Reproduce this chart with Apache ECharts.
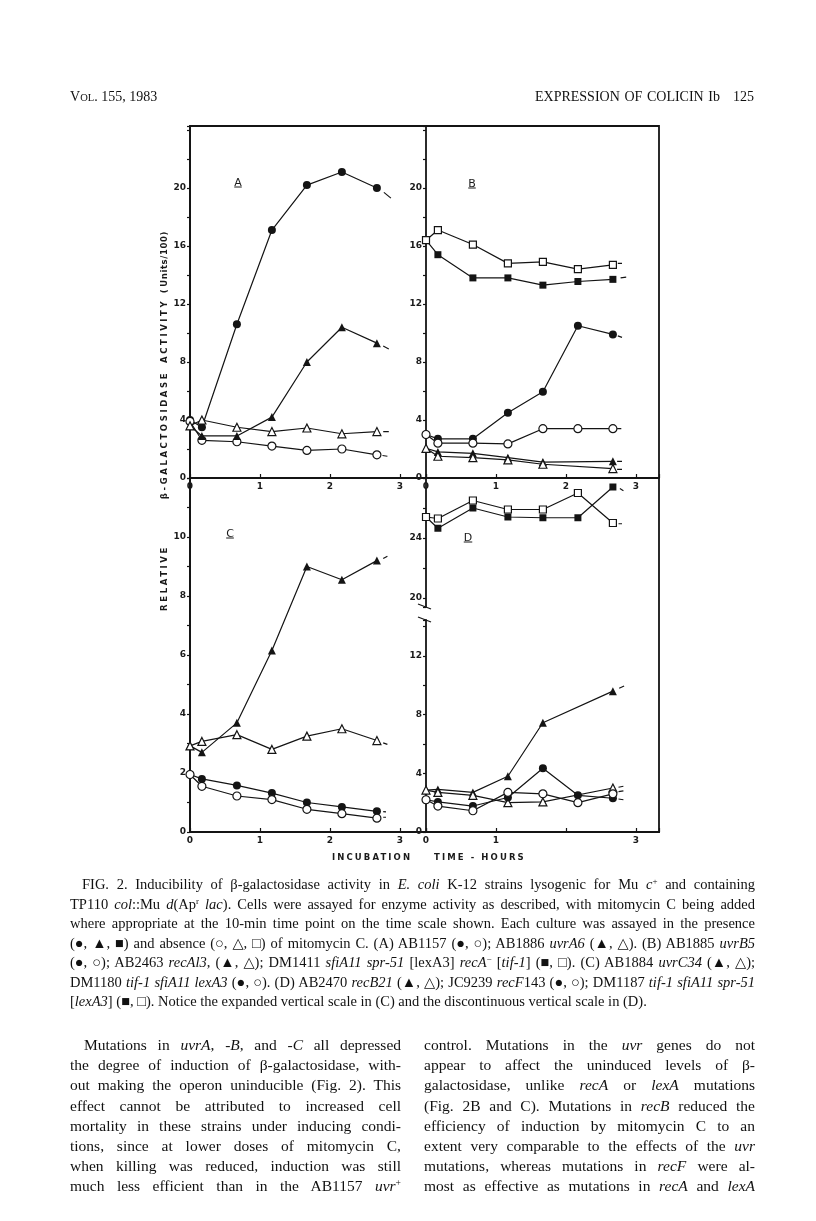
<!DOCTYPE html>
<html>
<head>
<meta charset="utf-8">
<title>Fig. 2 - Expression of colicin Ib</title>
<script src="https://cdn.jsdelivr.net/npm/echarts@6.0.0/dist/echarts.min.js"></script>
<style>
  html, body { margin: 0; padding: 0; background: #fff; }
  #page { position: relative; width: 816px; height: 1221px; overflow: hidden; color: #111;
          font-family: 'Liberation Serif', 'DejaVu Serif', serif; }
  #chart { position: absolute; left: 0; top: 0; width: 816px; height: 1221px; }
  .t { position: absolute; white-space: nowrap; line-height: 18px; }
  .t > span { display: inline-block; transform-origin: 0 50%; }
  .axis-name { position: absolute; white-space: nowrap; font-family: 'DejaVu Sans', sans-serif;
               font-weight: bold; font-size: 8.5px; letter-spacing: 2.6px; color: #1a1a1a; }
  .rot { transform: translate(-50%, -50%) rotate(-90deg); }
  .panel-tag { position: absolute; font-family: 'DejaVu Sans', sans-serif; font-size: 11px;
               text-decoration: underline; transform: translate(-50%, -50%); color: #1a1a1a; }
  .hdr { font-size: 14px; }
  .cap { font-size: 14.5px; }
  .txt { font-size: 15.5px; }
  sup { font-size: 0.62em; line-height: 0; vertical-align: 0.55em; }
</style>
</head>
<body>
<div id="page">
  <div id="chart"></div>

  <!-- titres d'axes -->
  <div class="axis-name rot" style="left:164px; top:578px;">RELATIVE</div>
  <div class="axis-name rot" style="left:164px; top:435px;">&beta;-GALACTOSIDASE</div>
  <div class="axis-name rot" style="left:164px; top:296px;">ACTIVITY (<span style="letter-spacing:0.6px">Units/100</span>)</div>
  <div class="axis-name" style="left:332px; top:852px; letter-spacing:2.1px;">INCUBATION</div>
  <div class="axis-name" style="left:434px; top:852px; letter-spacing:2.1px;">TIME - HOURS</div>

  <div class="panel-tag" style="left:238px; top:182px;">A</div>
  <div class="panel-tag" style="left:472px; top:183px;">B</div>
  <div class="panel-tag" style="left:230px; top:533px;">C</div>
  <div class="panel-tag" style="left:468px; top:537px;">D</div>
</div>

<script>
// temps (heures) des prélèvements
const hours = [0, 0.17, 0.67, 1.17, 1.67, 2.17, 2.67];

// (A) AB1157 (●, ○) ; AB1886 uvrA6 (▲, △)
const aCircleOn = [4.0, 3.5, 10.6, 17.1, 20.2, 21.1, 20.0];
const aCircleOff = [3.9, 2.6, 2.5, 2.2, 1.9, 2.0, 1.6];
const aTriOn = [3.6, 2.9, 2.9, 4.2, 8.0, 10.4, 9.3];
const aTriOff = [3.6, 4.0, 3.5, 3.2, 3.45, 3.05, 3.2];

// (B) uvrB5 (●, ○) ; recA13 (▲, △) ; DM1411 (■, □)
const bSquareOn = [16.4, 15.4, 13.8, 13.8, 13.3, 13.55, 13.7];
const bSquareOff = [16.4, 17.1, 16.1, 14.8, 14.9, 14.4, 14.7];
const bCircleOn = [3.0, 2.7, 2.7, 4.5, 5.95, 10.5, 9.9];
const bCircleOff = [3.0, 2.4, 2.4, 2.35, 3.4, 3.4, 3.4];
const bTriOn = [2.05, 1.8, 1.7, 1.4, 1.1, null, 1.15];
const bTriOff = [2.05, 1.5, 1.4, 1.25, 0.95, null, 0.65];

// (C) uvrC34 (▲, △) ; DM1180 (●, ○)
const cTriOn = [2.92, 2.7, 3.7, 6.15, 9.0, 8.55, 9.2];
const cTriOff = [2.92, 3.07, 3.3, 2.8, 3.25, 3.5, 3.1];
const cCircleOn = [1.95, 1.8, 1.58, 1.32, 1.0, 0.85, 0.7];
const cCircleOff = [1.95, 1.55, 1.22, 1.1, 0.77, 0.62, 0.47];

// (D) recB21 (▲, △) ; recF143 (●, ○) ; DM1187 (■, □)
const dSquareOn = [25.4, 24.65, 26.0, 25.4, 25.35, 25.35, 27.4];
const dSquareOff = [25.4, 25.3, 26.5, 25.9, 25.9, 27.0, 25.0];
const dTriOn = [2.86, 2.9, 2.7, 3.8, 7.45, null, 9.6];
const dTriOff = [2.86, 2.7, 2.5, 2.0, 2.05, null, 3.0];
const dCircleOn = [2.2, 2.05, 1.77, 2.35, 4.35, 2.5, 2.3];
const dCircleOff = [2.2, 1.77, 1.45, 2.7, 2.6, 2.0, 2.6];

// petits traits après le dernier point
const aCircleOnTail = [[2.77, 19.7], [2.87, 19.3]];
const aCircleOffTail = [[2.75, 1.55], [2.82, 1.5]];
const aTriOnTail = [[2.76, 9.1], [2.84, 8.9]];
const aTriOffTail = [[2.76, 3.2], [2.84, 3.2]];
const bSquareOnTail = [[2.78, 13.8], [2.86, 13.85]];
const bSquareOffTail = [[2.74, 14.8], [2.8, 14.8]];
const bCircleOnTail = [[2.74, 9.8], [2.8, 9.7]];
const bCircleOffTail = [[2.73, 3.4], [2.79, 3.4]];
const bTriOnTail = [[2.73, 1.15], [2.8, 1.15]];
const bTriOffTail = [[2.73, 0.6], [2.8, 0.6]];
const cTriOnTail = [[2.76, 9.27], [2.82, 9.35]];
const cTriOffTail = [[2.76, 3.02], [2.82, 2.97]];
const cCircleOnTail = [[2.76, 0.69], [2.8, 0.68]];
const cCircleOffTail = [[2.76, 0.5], [2.8, 0.5]];
const dSquareOnTail = [[2.77, 27.3], [2.82, 27.15]];
const dSquareOffTail = [[2.75, 24.95], [2.8, 24.95]];
const dTriOnTail = [[2.76, 9.8], [2.83, 9.95]];
const dTriOffTail = [[2.75, 3.05], [2.82, 3.12]];
const dCircleOnTail = [[2.75, 2.25], [2.82, 2.2]];
const dCircleOffTail = [[2.75, 2.75], [2.82, 2.8]];

// graduations
const hourTicks = [0, 1, 2, 3];
const abLabels = [0, 4, 8, 12, 16, 20];
const cLabels = [0, 2, 4, 6, 8, 10];
const dLowLabels = [0, 4, 8, 12];
const dHighLabels = [20, 24];
const dHourLabels = [0, 1, 3];

// texte de la page
const captionLines = [
  'FIG. 2. Inducibility of &beta;-galactosidase activity in <i>E. coli</i> K-12 strains lysogenic for Mu <i>c</i><sup>+</sup> and containing',
  'TP110 <i>col</i>::Mu <i>d</i>(Ap<sup>r</sup> <i>lac</i>). Cells were assayed for enzyme activity as described, with mitomycin C being added',
  'where appropriate at the 10-min time point on the time scale shown. Each culture was assayed in the presence',
  '(●, ▲, ■) and absence (○, △, □) of mitomycin C. (A) AB1157 (●, ○); AB1886 <i>uvrA6</i> (▲, △). (B) AB1885 <i>uvrB5</i>',
  '(●, ○); AB2463 <i>recAl3</i>, (▲, △); DM1411 <i>sfiA11 spr-51</i> [lexA3] <i>recA</i><sup>&minus;</sup> [<i>tif-1</i>] (■, □). (C) AB1884 <i>uvrC34</i> (▲, △);',
  'DM1180 <i>tif-1 sfiA11 lexA3</i> (●, ○). (D) AB2470 <i>recB21</i> (▲, △); JC9239 <i>recF</i>143 (●, ○); DM1187 <i>tif-1 sfiA11 spr-51</i>',
  '[<i>lexA3</i>] (■, □). Notice the expanded vertical scale in (C) and the discontinuous vertical scale in (D).'
];
const leftColumn = [
  'Mutations in <i>uvrA</i>, <i>-B</i>, and <i>-C</i> all depressed',
  'the degree of induction of &beta;-galactosidase, with-',
  'out making the operon uninducible (Fig. 2). This',
  'effect cannot be attributed to increased cell',
  'mortality in these strains under inducing condi-',
  'tions, since at lower doses of mitomycin C,',
  'when killing was reduced, induction was still',
  'much less efficient than in the AB1157 <i>uvr</i><sup>+</sup>'
];
const rightColumn = [
  'control. Mutations in the <i>uvr</i> genes do not',
  'appear to affect the uninduced levels of &beta;-',
  'galactosidase, unlike <i>recA</i> or <i>lexA</i> mutations',
  '(Fig. 2B and C). Mutations in <i>recB</i> reduced the',
  'efficiency of induction by mitomycin C to an',
  'extent very comparable to the effects of the <i>uvr</i>',
  'mutations, whereas mutations in <i>recF</i> were al-',
  'most as effective as mutations in <i>recA</i> and <i>lexA</i>'
];

const page = document.getElementById('page');

// une ligne de texte ajustée à la largeur voulue
function addLine(html, cls, left, centerY, width, justify) {
  const el = document.createElement('div');
  el.className = 't ' + cls;
  el.style.left = left + 'px';
  el.style.top = (centerY - 9) + 'px';
  el.innerHTML = '<span>' + html + '</span>';
  page.appendChild(el);
  const span = el.firstChild;
  const w = span.getBoundingClientRect().width;
  if (justify && w < width) {
    const gaps = (span.textContent.match(/ /g) || []).length;
    if (gaps) span.style.wordSpacing = ((width - w) / gaps) + 'px';
  } else if (w > width) {
    span.style.transform = 'scaleX(' + (width / w) + ')';
  }
}

function layoutText() {
  addLine('V<span style="font-size:10.5px">OL</span>. 155, 1983', 'hdr', 70, 97, 99, false);
  addLine('EXPRESSION OF COLICIN Ib', 'hdr', 535, 97, 185, true);
  addLine('125', 'hdr', 733, 97, 22, false);

  captionLines.forEach((line, i) => {
    const indent = i === 0 ? 12 : 0;
    addLine(line, 'cap', 70 + indent, 884 + i * 19.5, 685 - indent, i < captionLines.length - 1);
  });
  leftColumn.forEach((line, i) => {
    const indent = i === 0 ? 14 : 0;
    addLine(line, 'txt', 70 + indent, 1045 + i * 20.2, 331 - indent, true);
  });
  rightColumn.forEach((line, i) => {
    addLine(line, 'txt', 424, 1045 + i * 20.2, 331, true);
  });
}

// ---------- graphique ----------
const ink = '#141414';
const labelStyle = { fontFamily: 'DejaVu Sans', fontSize: 9, fontWeight: 'bold', color: '#1a1a1a' };

function onlyIn(list) {
  return v => (list.indexOf(Math.round(v * 100) / 100) >= 0 ? String(v) : '');
}

function xAxisFor(grid, max, labels, visible) {
  return {
    type: 'value', gridIndex: grid, min: 0, max: max, interval: 1, show: visible,
    axisLine: { show: true, lineStyle: { color: ink, width: 1.8 } },
    axisTick: { show: true, inside: true, length: 4, lineStyle: { color: ink, width: 1.2 } },
    axisLabel: Object.assign({ margin: 4, formatter: onlyIn(labels) }, labelStyle),
    splitLine: { show: false }
  };
}

function yAxisFor(grid, min, max, interval, labels) {
  const ax = {
    type: 'value', gridIndex: grid, min: min, max: max,
    axisLine: { show: true, onZero: false, lineStyle: { color: ink, width: 1.8 } },
    axisTick: { show: true, inside: false, length: 3, lineStyle: { color: ink, width: 1.2 } },
    axisLabel: Object.assign({ margin: 4, formatter: onlyIn(labels), showMinLabel: true, showMaxLabel: true }, labelStyle),
    splitLine: { show: false }
  };
  if (interval) ax.interval = interval;
  else ax.splitNumber = 4;
  return ax;
}

const symbolSize = { circle: 8, triangle: 8, rect: 7 };

function markSeries(axis, values, shape, filled, tail) {
  const pts = [];
  values.forEach((v, i) => { if (v !== null) pts.push([hours[i], v]); });
  const main = {
    type: 'line', xAxisIndex: axis, yAxisIndex: axis, data: pts,
    symbol: shape, symbolSize: symbolSize[shape], showSymbol: true, silent: true,
    lineStyle: { color: ink, width: 1.2 },
    itemStyle: { color: filled ? ink : '#fff', borderColor: ink, borderWidth: filled ? 0 : 1.2 },
    emphasis: { disabled: true }, z: 3
  };
  const dash = {
    type: 'line', xAxisIndex: axis, yAxisIndex: axis, data: tail,
    symbol: 'none', silent: true, lineStyle: { color: ink, width: 1.2 }, z: 2
  };
  return [main, dash];
}

const seriesSpec = [
  [1, aCircleOn, 'circle', true, aCircleOnTail],
  [1, aCircleOff, 'circle', false, aCircleOffTail],
  [1, aTriOn, 'triangle', true, aTriOnTail],
  [1, aTriOff, 'triangle', false, aTriOffTail],
  [2, bSquareOn, 'rect', true, bSquareOnTail],
  [2, bSquareOff, 'rect', false, bSquareOffTail],
  [2, bCircleOn, 'circle', true, bCircleOnTail],
  [2, bCircleOff, 'circle', false, bCircleOffTail],
  [2, bTriOn, 'triangle', true, bTriOnTail],
  [2, bTriOff, 'triangle', false, bTriOffTail],
  [3, cTriOn, 'triangle', true, cTriOnTail],
  [3, cTriOff, 'triangle', false, cTriOffTail],
  [3, cCircleOn, 'circle', true, cCircleOnTail],
  [3, cCircleOff, 'circle', false, cCircleOffTail],
  [4, dSquareOn, 'rect', true, dSquareOnTail],
  [4, dSquareOff, 'rect', false, dSquareOffTail],
  [5, dTriOn, 'triangle', true, dTriOnTail],
  [5, dTriOff, 'triangle', false, dTriOffTail],
  [5, dCircleOn, 'circle', true, dCircleOnTail],
  [5, dCircleOff, 'circle', false, dCircleOffTail]
];

let series = [];
seriesSpec.forEach(s => { series = series.concat(markSeries(s[0], s[1], s[2], s[3], s[4])); });

// cadre : gauche 190, milieu 426, droite 659 ; haut 126, milieu 478, bas 832
const option = {
  animation: false,
  backgroundColor: 'transparent',
  grid: [
    { left: 190, top: 126, width: 469, height: 706, show: true, borderColor: ink, borderWidth: 1.8, backgroundColor: 'transparent' },
    { left: 190, top: 126, width: 236, height: 352 },
    { left: 426, top: 126, width: 233, height: 352 },
    { left: 190, top: 478, width: 236, height: 354 },
    { left: 426, top: 478, width: 233, height: 129 },
    { left: 426, top: 620, width: 233, height: 212 }
  ],
  xAxis: [
    { type: 'value', gridIndex: 0, min: 0, max: 1, show: false },
    xAxisFor(1, 236 / 70, hourTicks, true),
    xAxisFor(2, 233 / 70, hourTicks, true),
    xAxisFor(3, 236 / 70, hourTicks, true),
    xAxisFor(4, 233 / 70, [], false),
    xAxisFor(5, 233 / 70, dHourLabels, true)
  ],
  yAxis: [
    { type: 'value', gridIndex: 0, min: 0, max: 1, show: false },
    yAxisFor(1, 0, 352 / 14.5, 2, abLabels),
    yAxisFor(2, 0, 352 / 14.5, 2, abLabels),
    yAxisFor(3, 0, 354 / 29.5, 1, cLabels),
    yAxisFor(4, 19.4, 28, null, dHighLabels),
    yAxisFor(5, 0, 212 / 14.67, 2, dLowLabels)
  ],
  series: series
};

const chart = echarts.init(document.getElementById('chart'), null, { renderer: 'canvas' });
chart.setOption(option);

// coupure de l'axe vertical en (D)
const breakTop = chart.convertToPixel({ gridIndex: 4 }, [0, 19.4]);
const breakBottom = chart.convertToPixel({ gridIndex: 5 }, [0, 212 / 14.67]);
chart.setOption({
  graphic: [breakTop, breakBottom].map(p => ({
    type: 'line', silent: true,
    shape: { x1: p[0] - 8, y1: p[1] - 3, x2: p[0] + 5, y2: p[1] + 2 },
    style: { stroke: ink, lineWidth: 1.3 }
  }))
});

layoutText();
</script>
</body>
</html>
